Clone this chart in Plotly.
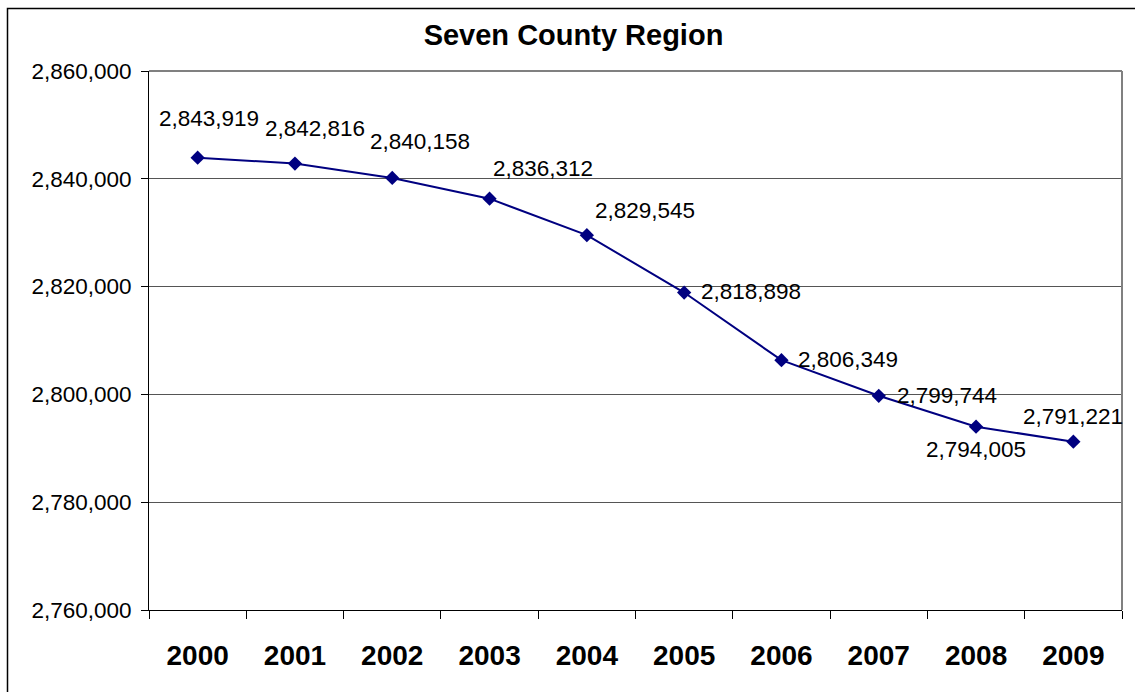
import plotly.graph_objects as go

# Population of the seven county region by year
years = ["2000", "2001", "2002", "2003", "2004", "2005", "2006", "2007", "2008", "2009"]
population = [2843919, 2842816, 2840158, 2836312, 2829545, 2818898, 2806349, 2799744, 2794005, 2791221]

# Data label offsets (pixels) relative to each marker
label_dx = [11, 20, 28, 53, 58, 67, 67, 68, 0, 0]
label_dy = [39, 35, 36, 30, 25, 1, 1, 0, -23, 25]

y_ticks = [2760000, 2780000, 2800000, 2820000, 2840000, 2860000]

W, H = 1135, 692
ML, MR, MT, MB = 149, 13, 71, 82
FONT = "Liberation Sans, Arial, sans-serif"

fig = go.Figure()
fig.add_trace(go.Scatter(
    x=years, y=population, mode="lines+markers",
    line=dict(color="#000080", width=2),
    marker=dict(symbol="diamond", size=11, color="#000080"),
    hoverinfo="x+y", showlegend=False,
))

# Value labels, placed by category index
for i, (v, dx, dy) in enumerate(zip(population, label_dx, label_dy)):
    fig.add_annotation(
        x=i, y=v, xref="x", yref="y", text=f"{v:,}", showarrow=False,
        xanchor="center", yanchor="middle", xshift=dx, yshift=dy,
        font=dict(family=FONT, size=22.5, color="black"),
    )

pw = W - ML - MR
ph = H - MT - MB
def px_x(p):
    return (p - ML) / pw
def px_y(p):
    return (H - MB - p) / ph

# Outer chart border
fig.add_shape(type="rect", xref="paper", yref="paper",
              x0=px_x(7.5), x1=px_x(1150), y0=px_y(8.5), y1=px_y(720),
              line=dict(color="black", width=1.5), layer="above")
# Gray top and right edges of the plot area
fig.add_shape(type="line", xref="paper", yref="paper", x0=0, x1=1, y0=1, y1=1,
              line=dict(color="#808080", width=2), layer="above")
fig.add_shape(type="line", xref="paper", yref="paper", x0=1, x1=1, y0=0, y1=1,
              line=dict(color="#808080", width=2), layer="above")

fig.update_layout(
    width=W, height=H,
    margin=dict(l=ML, r=MR, t=MT, b=MB, pad=0),
    paper_bgcolor="white", plot_bgcolor="white",
    font=dict(family=FONT, color="black"),
    title=dict(text="<b>Seven County Region</b>", xref="container", yref="container",
               x=573.5 / W, y=1 - 35 / H, xanchor="center", yanchor="middle",
               font=dict(family=FONT, size=29, color="black")),
    xaxis=dict(
        type="category", range=[-0.5, 9.5], tickson="boundaries",
        ticks="outside", ticklen=8, tickcolor="black", tickwidth=1,
        showline=True, linecolor="black", linewidth=1,
        showgrid=False, zeroline=False,
        tickfont=dict(family=FONT, size=28, color="black"),
        tickprefix="<b>", ticksuffix="</b>",
        ticklabelstandoff=20,
    ),
    yaxis=dict(
        range=[2760000, 2860000], tickvals=y_ticks,
        ticktext=[f"{v:,}" for v in y_ticks],
        ticks="outside", ticklen=7, tickcolor="black", tickwidth=1,
        showline=True, linecolor="black", linewidth=1,
        showgrid=True, gridcolor="#555555", gridwidth=1, zeroline=False,
        tickfont=dict(family=FONT, size=22.5, color="black"),
        ticklabelstandoff=5,
    ),
)

fig.write_html("out.html")
